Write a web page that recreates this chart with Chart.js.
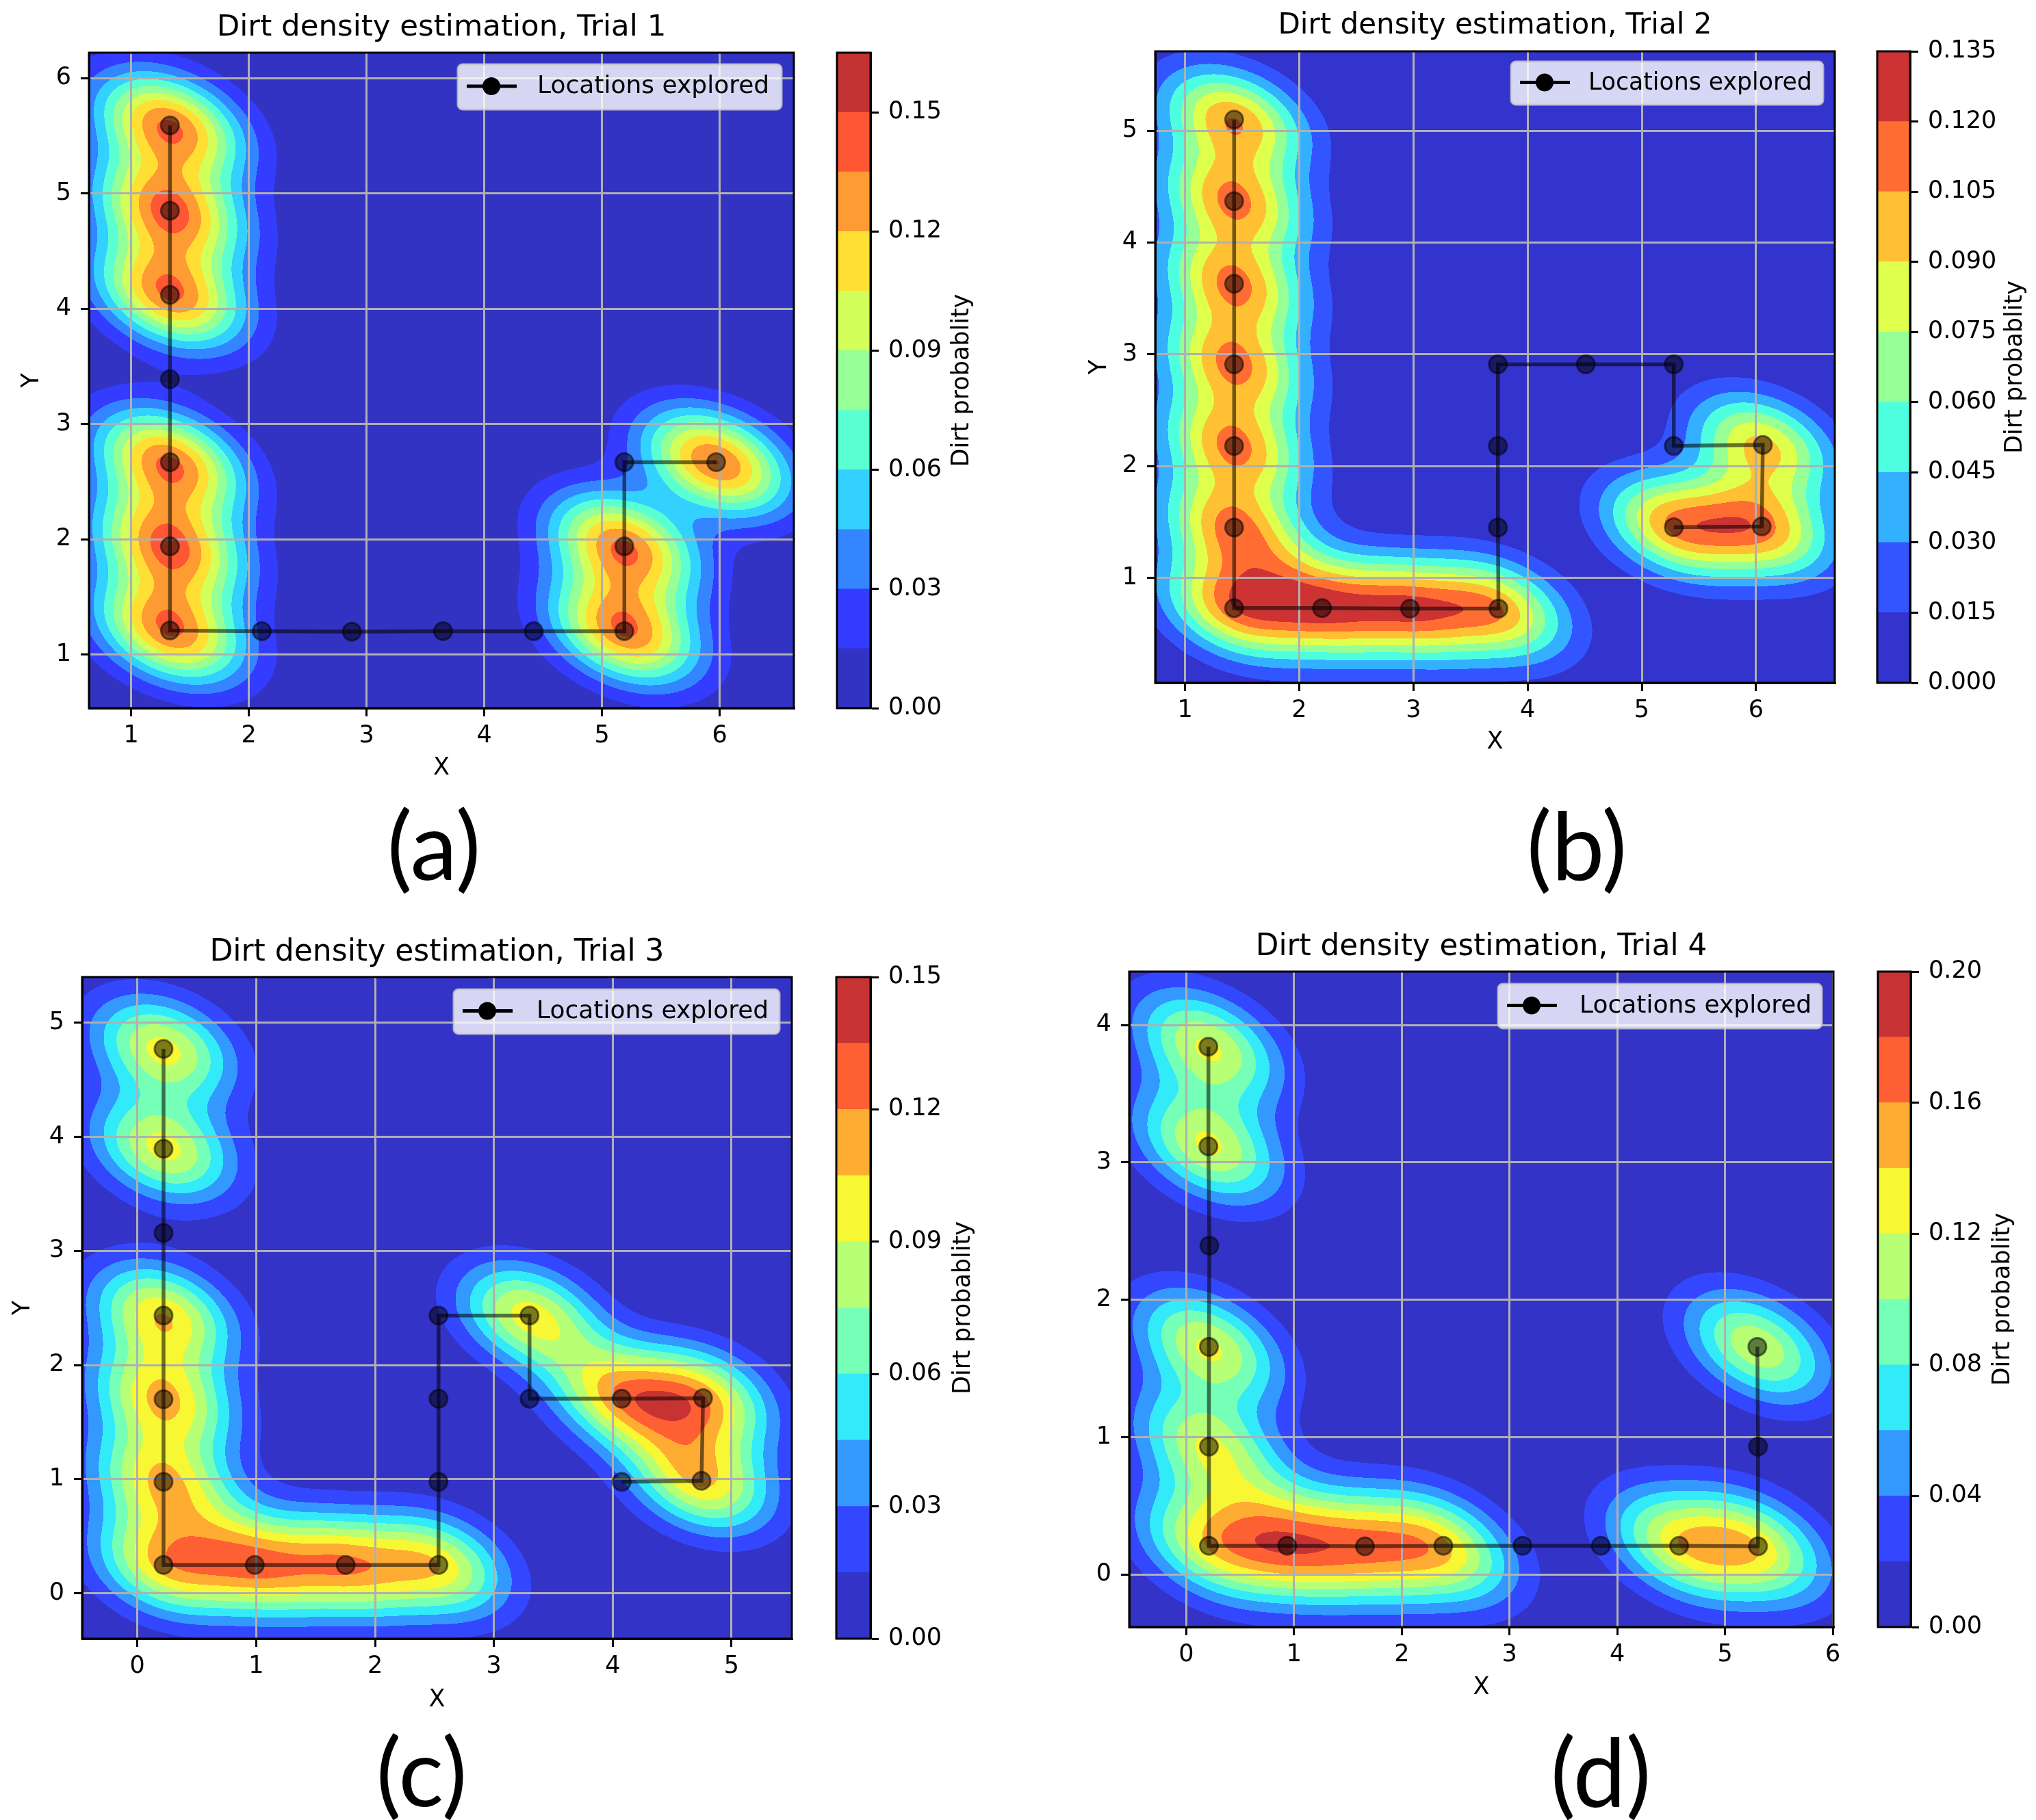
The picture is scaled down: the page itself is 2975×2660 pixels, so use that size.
<!DOCTYPE HTML><html>
<head>
  <meta charset="utf-8">
  <script src="https://cdn.jsdelivr.net/npm/chart.js"></script>
  <style>
    html, body { margin: 0; background: #fff; }
    #page { position: relative; width: 2975px; height: 2660px; overflow: hidden; }
    canvas { position: absolute; }
    .tag { position: absolute; width: 400px; text-align: center; font-family: Lato; font-size: 138px; line-height: 170px; color: #000; }
  </style>
</head>
<body>
<div id="page"></div>
<script>
  const legendLabel = 'Locations explored';
  const barLabel = 'Dirt probablity';

  // Trial 1
  const xA = [1.33, 1.33, 1.33, 1.33, 1.33, 1.33, 1.33, 2.11, 2.875, 3.65, 4.42, 5.19, 5.19, 5.19, 5.97];
  const yA = [5.59, 4.85, 4.12, 3.39, 2.67, 1.94, 1.21, 1.205, 1.20, 1.205, 1.205, 1.205, 1.94, 2.67, 2.67];
  const dirtA = [0.132, 0.132, 0.132, 0, 0.132, 0.132, 0.132, 0, 0, 0, 0, 0.132, 0.132, 0, 0.135];
  const spreadA = [0.43, 0.32, -0.35];
  const levelsA = [0, 0.015, 0.03, 0.045, 0.06, 0.075, 0.09, 0.105, 0.12, 0.135, 0.15, 0.165];
  const barTicksA = ['0.00', '0.03', '0.06', '0.09', '0.12', '0.15'];
  const xTicksA = [1, 2, 3, 4, 5, 6];
  const yTicksA = [1, 2, 3, 4, 5, 6];
  const xRangeA = [0.642, 6.63];
  const yRangeA = [0.537, 6.22];

  // Trial 2
  const xB = [1.43, 1.43, 1.43, 1.43, 1.43, 1.43, 1.43, 2.20, 2.97, 3.745, 3.74, 3.74, 3.74, 4.51, 5.28, 5.28, 6.06, 6.05, 5.28];
  const yB = [5.10, 4.37, 3.63, 2.91, 2.18, 1.45, 0.73, 0.73, 0.725, 0.725, 1.45, 2.18, 2.91, 2.91, 2.91, 2.18, 2.19, 1.46, 1.454];
  const dirtB = [0.10, 0.101, 0.101, 0.101, 0.101, 0.10, 0.098, 0.097, 0.097, 0.092, 0, 0, 0, 0, 0, 0, 0.09, 0.095, 0.095];
  const spreadB = [0.43, 0.32, -0.33];
  const levelsB = [0, 0.015, 0.03, 0.045, 0.06, 0.075, 0.09, 0.105, 0.12, 0.135];
  const barTicksB = ['0.000', '0.015', '0.030', '0.045', '0.060', '0.075', '0.090', '0.105', '0.120', '0.135'];
  const xTicksB = [1, 2, 3, 4, 5, 6];
  const yTicksB = [1, 2, 3, 4, 5];
  const xRangeB = [0.739, 6.69];
  const yRangeB = [0.061, 5.71];

  // Trial 3
  const xC = [0.22, 0.22, 0.22, 0.22, 0.22, 0.22, 0.22, 0.988, 1.753, 2.534, 2.534, 2.534, 2.534, 3.30, 3.30, 4.075, 4.76, 4.747, 4.075];
  const yC = [4.77, 3.895, 3.157, 2.434, 1.70, 0.977, 0.248, 0.248, 0.248, 0.248, 0.977, 1.705, 2.434, 2.434, 1.705, 1.705, 1.71, 0.985, 0.977];
  const dirtC = [0.094, 0.094, 0, 0.10, 0.10, 0.097, 0.095, 0.099, 0.097, 0.092, 0, 0, 0, 0.095, 0, 0.098, 0.096, 0.10, 0];
  const spreadC = [0.41, 0.32, -0.3];
  const levelsC = [0, 0.015, 0.03, 0.045, 0.06, 0.075, 0.09, 0.105, 0.12, 0.135, 0.15];
  const barTicksC = ['0.00', '0.03', '0.06', '0.09', '0.12', '0.15'];
  const xTicksC = [0, 1, 2, 3, 4, 5];
  const yTicksC = [0, 1, 2, 3, 4, 5];
  const xRangeC = [-0.465, 5.507];
  const yRangeC = [-0.398, 5.40];

  // Trial 4
  const xD = [0.205, 0.205, 0.214, 0.21, 0.21, 0.21, 0.936, 1.658, 2.385, 3.12, 3.848, 4.574, 5.306, 5.306, 5.30];
  const yD = [3.843, 3.117, 2.395, 1.658, 0.932, 0.21, 0.21, 0.206, 0.21, 0.21, 0.21, 0.21, 0.206, 0.932, 1.658];
  const dirtD = [0.121, 0.121, 0, 0.121, 0.115, 0.11, 0.126, 0.114, 0.12, 0, 0, 0.113, 0.113, 0, 0.115];
  const spreadD = [0.47, 0.29, -0.4];
  const levelsD = [0, 0.02, 0.04, 0.06, 0.08, 0.10, 0.12, 0.14, 0.16, 0.18, 0.20];
  const barTicksD = ['0.00', '0.04', '0.08', '0.12', '0.16', '0.20'];
  const xTicksD = [0, 1, 2, 3, 4, 5, 6];
  const yTicksD = [0, 1, 2, 3, 4];
  const xRangeD = [-0.53, 6.006];
  const yRangeD = [-0.382, 4.389];

  Chart.defaults.font.family = '"DejaVu Sans"';
  Chart.defaults.color = '#000';

  const TICK_FONT = 35;
  const page = document.getElementById('page');

  function jet(t) {
    const ramp = (pts) => {
      for (let i = 1; i < pts.length; i++) {
        if (t <= pts[i][0]) {
          const a = pts[i - 1], b = pts[i];
          return a[1] + (b[1] - a[1]) * (t - a[0]) / (b[0] - a[0]);
        }
      }
      return pts[pts.length - 1][1];
    };
    const r = ramp([[0, 0], [0.35, 0], [0.66, 1], [0.89, 1], [1, 0.5]]);
    const g = ramp([[0, 0], [0.125, 0], [0.375, 1], [0.64, 1], [0.91, 0], [1, 0]]);
    const b = ramp([[0, 0.5], [0.11, 1], [0.34, 1], [0.65, 0], [1, 0]]);
    // alpha 0.8 over white
    return [r, g, b].map(c => Math.round((0.2 + 0.8 * c) * 255));
  }

  function bandColors(levels) {
    const n = levels.length - 1;
    const out = [];
    for (let i = 0; i < n; i++) out.push(jet((i + 0.5) / n));
    return out;
  }

  function addCanvas(left, top, width, height) {
    const c = document.createElement('canvas');
    c.width = width; c.height = height;
    c.style.left = left + 'px'; c.style.top = top + 'px';
    c.style.width = width + 'px'; c.style.height = height + 'px';
    page.appendChild(c);
    return c.getContext('2d');
  }

  // filled contours of the dirt estimate, drawn under the grid
  const contourPlugin = {
    id: 'contour',
    beforeDraw(chart, args, o) {
      const {left, top, width, height} = chart.chartArea;
      const w = Math.round(width), h = Math.round(height);
      const sx = chart.scales.x, sy = chart.scales.y;
      const off = document.createElement('canvas');
      off.width = w; off.height = h;
      const octx = off.getContext('2d');
      const img = octx.createImageData(w, h);
      const colors = bandColors(o.levels);
      const step = o.levels[1];
      const [sdx, sdy, rho] = o.spread;
      const k = 1 / (2 * (1 - rho * rho));
      const bumps = [];
      o.xs.forEach((x, i) => { if (o.dirt[i] > 0) bumps.push([x, o.ys[i], o.dirt[i]]); });
      let p = 0;
      for (let j = 0; j < h; j++) {
        const vy = sy.getValueForPixel(top + j + 0.5);
        for (let i = 0; i < w; i++) {
          const vx = sx.getValueForPixel(left + i + 0.5);
          let v = 0;
          for (const b of bumps) {
            const dx = (vx - b[0]) / sdx, dy = (vy - b[1]) / sdy;
            const q = k * (dx * dx + dy * dy - 2 * rho * dx * dy);
            if (q < 12) v += b[2] * Math.exp(-q);
          }
          const idx = Math.min(colors.length - 1, Math.floor(v / step));
          const col = colors[idx];
          img.data[p++] = col[0]; img.data[p++] = col[1]; img.data[p++] = col[2]; img.data[p++] = 255;
        }
      }
      octx.putImageData(img, 0, 0);
      chart.ctx.drawImage(off, left, top, width, height);
    }
  };

  const framePlugin = {
    id: 'frame',
    afterDraw(chart) {
      const {left, top, width, height} = chart.chartArea;
      const ctx = chart.ctx;
      ctx.save();
      ctx.strokeStyle = '#000';
      ctx.lineWidth = 3;
      ctx.strokeRect(left, top, width, height);
      ctx.restore();
    }
  };

  const legendPlugin = {
    id: 'legendBox',
    afterDatasetsDraw(chart, args, o) {
      const ctx = chart.ctx;
      const [x, y, w, h] = o.box;
      ctx.save();
      ctx.beginPath();
      ctx.roundRect(x, y, w, h, 7);
      ctx.fillStyle = 'rgba(255,255,255,0.8)';
      ctx.fill();
      ctx.lineWidth = 3;
      ctx.strokeStyle = 'rgba(204,204,204,0.8)';
      ctx.stroke();
      const cy = y + h / 2;
      ctx.strokeStyle = '#000';
      ctx.lineWidth = 5;
      ctx.beginPath();
      ctx.moveTo(x + 13, cy - 1);
      ctx.lineTo(x + 86, cy - 1);
      ctx.stroke();
      ctx.fillStyle = '#000';
      ctx.beginPath();
      ctx.arc(x + 49, cy - 1, 13, 0, Math.PI * 2);
      ctx.fill();
      ctx.font = o.font + 'px "DejaVu Sans"';
      ctx.textBaseline = 'middle';
      ctx.fillText(chart.data.datasets[0].label, x + o.textX, cy);
      ctx.restore();
    }
  };

  const barLabelPlugin = {
    id: 'barLabel',
    afterDraw(chart, args, o) {
      const ctx = chart.ctx;
      ctx.save();
      ctx.translate(o.x, (chart.chartArea.top + chart.chartArea.bottom) / 2);
      ctx.rotate(-Math.PI / 2);
      ctx.font = TICK_FONT + 'px "DejaVu Sans"';
      ctx.textAlign = 'center';
      ctx.textBaseline = 'middle';
      ctx.fillStyle = '#000';
      ctx.fillText(barLabel, 0, 0);
      ctx.restore();
    }
  };

  function fixedTicks(values) {
    return axis => { axis.ticks = values.map(v => ({value: v})); };
  }

  function drawPanel(p) {
    const [pl, pt, pr, pb] = p.plot;
    const cl = p.yLabelX ? p.yLabelX - 21 : pl - 100;
    const ct = pt - 62;
    const cr = pr + 40;
    const cb = p.xLabelY + 21;
    const ctx = addCanvas(cl, ct, cr - cl, cb - ct);

    new Chart(ctx, {
      type: 'scatter',
      data: {
        datasets: [{
          label: legendLabel,
          data: p.xs.map((x, i) => ({x: x, y: p.ys[i]})),
          showLine: true,
          borderColor: 'rgba(0,0,0,0.55)',
          borderWidth: 5.5,
          pointRadius: 13,
          pointBorderWidth: 3,
          pointBackgroundColor: 'rgba(0,0,0,0.5)',
          pointBorderColor: 'rgba(0,0,0,0.5)'
        }]
      },
      options: {
        responsive: false,
        animation: false,
        devicePixelRatio: 1,
        layout: {padding: {right: 40}},
        scales: {
          x: {
            type: 'linear',
            min: p.xRange[0], max: p.xRange[1],
            afterBuildTicks: fixedTicks(p.xTicks),
            afterFit: s => { s.height = cb - pb; },
            grid: {color: '#b0b0b0', lineWidth: 3, tickColor: '#000', tickWidth: 3, tickLength: 12},
            border: {display: true, color: '#000', width: 3},
            ticks: {font: {size: TICK_FONT}, padding: 8, autoSkip: false, maxRotation: 0, callback: v => String(v)},
            title: {display: true, text: 'X', font: {size: TICK_FONT}, padding: 0}
          },
          y: {
            type: 'linear',
            min: p.yRange[0], max: p.yRange[1],
            afterBuildTicks: fixedTicks(p.yTicks),
            afterFit: s => { s.width = pl - cl; },
            grid: {color: '#b0b0b0', lineWidth: 3, tickColor: '#000', tickWidth: 3, tickLength: 12},
            border: {display: true, color: '#000', width: 3},
            ticks: {font: {size: TICK_FONT}, padding: 14, autoSkip: false, callback: v => String(v)},
            title: {display: !!p.yLabelX, text: 'Y', font: {size: TICK_FONT}, padding: 0}
          }
        },
        plugins: {
          title: {
            display: true, text: p.title, fullSize: false,
            font: {size: p.titleFont, weight: 'normal'},
            padding: {top: 0, bottom: 62 - p.titleFont * 1.2}
          },
          legend: {display: false},
          tooltip: {enabled: false},
          contour: {xs: p.xs, ys: p.ys, dirt: p.dirt, spread: p.spread, levels: p.levels},
          legendBox: {box: [p.legend[0] - cl, p.legend[1] - ct, p.legend[2], p.legend[3]], font: p.legendFont, textX: p.legendTextX}
        }
      },
      plugins: [contourPlugin, framePlugin, legendPlugin]
    });

    // colour bar
    const [bl, br] = p.bar;
    const left = bl - 5, top = pt - 40;
    const right = p.barLabelX + 30;
    const bctx = addCanvas(left, top, right - left, pb - pt + 80);
    const colors = bandColors(p.levels);
    const values = p.barTicks.map(parseFloat);
    new Chart(bctx, {
      type: 'bar',
      data: {
        labels: ['bar'],
        datasets: colors.map((c, i) => ({
          data: [[p.levels[i], p.levels[i + 1]]],
          backgroundColor: 'rgb(' + c.join(',') + ')',
          grouped: false,
          barPercentage: 1,
          categoryPercentage: 1
        }))
      },
      options: {
        responsive: false,
        animation: false,
        devicePixelRatio: 1,
        layout: {padding: {left: 5, top: 40, bottom: 40}},
        scales: {
          x: {display: false},
          y: {
            position: 'right',
            min: 0, max: p.levels[p.levels.length - 1],
            afterBuildTicks: fixedTicks(values),
            afterFit: s => { s.width = right - br; },
            grid: {drawOnChartArea: false, tickColor: '#000', tickWidth: 3, tickLength: 12},
            border: {display: true, color: '#000', width: 3},
            ticks: {font: {size: TICK_FONT}, padding: 14, autoSkip: false, callback: (v, i) => p.barTicks[i]}
          }
        },
        plugins: {
          legend: {display: false},
          tooltip: {enabled: false},
          barLabel: {x: p.barLabelX - left}
        }
      },
      plugins: [framePlugin, barLabelPlugin]
    });

    const tag = document.createElement('div');
    tag.className = 'tag';
    tag.textContent = p.tag[0];
    tag.style.left = (p.tag[1] - 200) + 'px';
    tag.style.top = (p.tag[2] - 85) + 'px';
    page.appendChild(tag);
  }

  [
    {title: 'Dirt density estimation, Trial 1', xs: xA, ys: yA, dirt: dirtA, spread: spreadA, levels: levelsA,
     barTicks: barTicksA, xTicks: xTicksA, yTicks: yTicksA, xRange: xRangeA, yRange: yRangeA,
     plot: [130, 77, 1160, 1035], bar: [1223, 1272], legend: [669, 94, 473, 66], titleFont: 43.5, legendFont: 36, legendTextX: 116,
     yLabelX: 47, xLabelY: 1123, barLabelX: 1406, tag: ['(a)', 634, 1233]},
    {title: 'Dirt density estimation, Trial 2', xs: xB, ys: yB, dirt: dirtB, spread: spreadB, levels: levelsB,
     barTicks: barTicksB, xTicks: xTicksB, yTicks: yTicksB, xRange: xRangeB, yRange: yRangeB,
     plot: [1688, 75, 2681, 998], bar: [2743, 2791], legend: [2208, 90, 456, 63], titleFont: 42, legendFont: 34.7, legendTextX: 113,
     yLabelX: 1607, xLabelY: 1085, barLabelX: 2945, tag: ['(b)', 2304, 1233]},
    {title: 'Dirt density estimation, Trial 3', xs: xC, ys: yC, dirt: dirtC, spread: spreadC, levels: levelsC,
     barTicks: barTicksC, xTicks: xTicksC, yTicks: yTicksC, xRange: xRangeC, yRange: yRangeC,
     plot: [120, 1428, 1157, 2395], bar: [1222, 1272], legend: [663, 1446, 476, 65], titleFont: 44, legendFont: 36, legendTextX: 121,
     yLabelX: 34, xLabelY: 2485, barLabelX: 1408, tag: ['(c)', 616, 2587]},
    {title: 'Dirt density estimation, Trial 4', xs: xD, ys: yD, dirt: dirtD, spread: spreadD, levels: levelsD,
     barTicks: barTicksD, xTicks: xTicksD, yTicks: yTicksD, xRange: xRangeD, yRange: yRangeD,
     plot: [1650, 1420, 2679, 2378], bar: [2744, 2792], legend: [2189, 1438, 473, 65], titleFont: 43.7, legendFont: 36, legendTextX: 119,
     yLabelX: 0, xLabelY: 2467, barLabelX: 2927, tag: ['(d)', 2339, 2587]}
  ].forEach(drawPanel);
</script>
</body>
</html>
